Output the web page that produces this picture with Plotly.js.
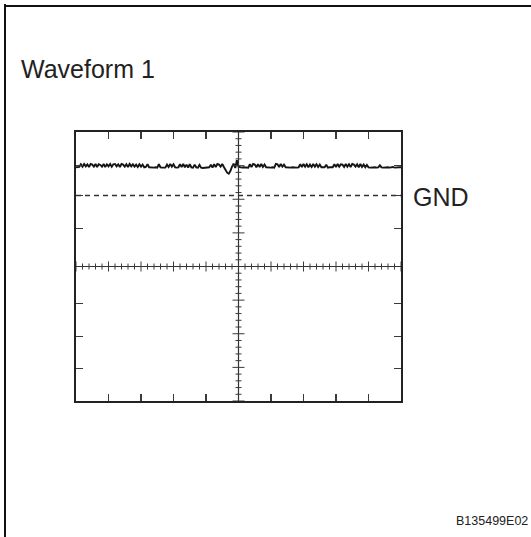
<!DOCTYPE html>
<html>
<head>
<meta charset="utf-8">
<script src="https://cdn.plot.ly/plotly-3.0.1.min.js"></script>
<style>html,body{margin:0;padding:0;background:#fff;}#chart{width:531px;height:537px;}</style>
</head>
<body>
<div id="chart"></div>
<script>
// Waveform samples (vertical divisions), one every 0.05 horizontal division, from -5 to +5
var waveform = [
  2.95,2.95,2.96,3.04,2.97,3.05,2.98,3.04,2.96,3.05,
  3.03,2.97,3.05,2.96,3.04,3.02,2.97,3.05,2.96,3.04,
  2.98,3.05,2.97,3.04,3.05,2.98,3.04,2.96,3.05,3.03,
  2.97,3.04,2.96,3.05,2.98,3.04,2.97,3.03,2.96,3.04,
  2.97,3.03,2.95,2.96,3.04,2.95,2.94,2.95,2.94,2.95,
  2.94,3.04,2.95,2.94,2.95,2.94,3.03,2.96,3.05,2.97,
  3.04,2.95,2.94,2.95,3.04,2.96,3.05,2.95,3.03,2.94,
  3.04,2.95,2.94,3.03,2.95,2.94,3.02,2.94,2.93,2.94,
  2.93,2.94,2.95,3.03,2.94,3.04,2.96,3.05,3.03,2.97,
  3.05,2.96,2.86,2.79,2.76,2.84,2.97,3.06,2.93,3.16,
  2.97,2.95,2.94,2.95,2.94,2.95,2.94,3.04,2.96,3.05,
  3.03,2.95,3.04,2.96,3.05,2.96,3.03,2.95,2.94,2.95,
  2.94,2.95,2.94,3.05,3.04,2.96,3.05,2.97,3.03,2.95,
  2.94,2.95,2.94,2.95,2.94,2.95,2.94,2.95,3.04,2.96,
  3.05,2.97,3.04,2.95,3.03,2.96,3.05,2.97,3.04,2.96,
  3.03,2.95,2.94,2.95,3.03,2.94,2.95,2.94,2.95,3.04,
  2.96,3.05,2.97,3.04,3.03,2.96,3.05,2.97,3.04,2.96,
  3.05,3.03,2.97,3.04,2.95,3.05,2.96,3.03,2.95,3.02,
  2.95,2.94,2.95,2.94,2.95,2.94,2.95,3.01,2.95,2.94,
  2.95,2.94,2.95,2.94,2.95,2.96,2.94,2.95,2.94,2.95,2.95
];
var gndLevel = 2.11;
var xTickVals = [-4,-3,-2,-1,1,2,3,4];
var yTickVals = [-3.04,-2.07,-1.11,1.12,2.1,3.0];
var titleText = "Waveform 1";
var gndText = "GND";
var codeText = "B135499E02";

var W = 531, H = 537, ML = 76, MR = 130, MT = 132, MB = 136;
var PW = W - ML - MR, PH = H - MT - MB;
function px(x){ return (x - ML) / PW; }
function py(y){ return (H - MB - y) / PH; }

var tickColor = '#3a3a3a';
var shapes = [];
// centre cross
shapes.push({type:'line', xref:'x', yref:'y', x0:0, x1:0, y0:-4, y1:4, line:{color:'#333', width:1.2}});
shapes.push({type:'line', xref:'x', yref:'y', x0:-5, x1:5, y0:0, y1:0, line:{color:'#333', width:1.2}});
// GND dashed line
shapes.push({type:'line', xref:'x', yref:'y', x0:-5, x1:5, y0:gndLevel, y1:gndLevel, line:{color:'#333', width:1.5, dash:'5px,4px'}});
// minor / major ticks on centre lines
for (var k = -25; k <= 25; k++) {
  if (k === 0) continue;
  var major = (k % 5 === 0);
  var h = major ? 5 : 3;
  shapes.push({type:'line', xref:'x', yref:'y', ysizemode:'pixel', yanchor:0,
    x0:k*0.2, x1:k*0.2, y0:-h, y1:h, line:{color:tickColor, width:1}});
}
for (var j = -20; j <= 20; j++) {
  if (j === 0) continue;
  var majorY = (j % 5 === 0);
  var w = majorY ? 6 : 3;
  shapes.push({type:'line', xref:'x', yref:'y', xsizemode:'pixel', xanchor:0,
    x0:-w, x1:w, y0:j*0.2, y1:j*0.2, line:{color:tickColor, width:1}});
}
// outer picture frame (left and top)
shapes.push({type:'line', xref:'paper', yref:'paper', x0:px(5), x1:px(5), y0:py(4), y1:py(540), line:{color:'#111', width:2}});
shapes.push({type:'line', xref:'paper', yref:'paper', x0:px(4), x1:px(534), y0:py(6), y1:py(6), line:{color:'#111', width:2}});

var trace = {
  type:'scatter', mode:'lines', x0:-5, dx:0.05, y:waveform,
  line:{color:'#151515', width:1.9}, hoverinfo:'skip', showlegend:false
};

var font = 'Arial, "Liberation Sans", sans-serif';
var layout = {
  width:W, height:H,
  margin:{l:ML, r:MR, t:MT, b:MB, pad:0},
  paper_bgcolor:'#fff', plot_bgcolor:'#fff',
  showlegend:false,
  xaxis:{range:[-5,5], showgrid:false, zeroline:false, showline:true, linecolor:'#222', linewidth:1.8,
    mirror:'allticks', ticks:'inside', ticklen:7, tickwidth:1.2, tickcolor:tickColor,
    tickmode:'array', tickvals:xTickVals, showticklabels:false, fixedrange:true},
  yaxis:{range:[-4,4], showgrid:false, zeroline:false, showline:true, linecolor:'#222', linewidth:1.8,
    mirror:'allticks', ticks:'inside', ticklen:7, tickwidth:1.2, tickcolor:tickColor,
    tickmode:'array', tickvals:yTickVals, showticklabels:false, fixedrange:true},
  shapes:shapes,
  annotations:[
    {text:titleText, xref:'paper', yref:'paper', x:px(19), y:py(69), xanchor:'left', yanchor:'middle',
      showarrow:false, font:{family:font, size:25, color:'#222'}},
    {text:gndText, xref:'paper', yref:'paper', x:px(411), y:py(196.5), xanchor:'left', yanchor:'middle',
      showarrow:false, font:{family:font, size:25, color:'#222'}},
    {text:codeText, xref:'paper', yref:'paper', x:px(530), y:py(521), xanchor:'right', yanchor:'middle',
      showarrow:false, font:{family:font, size:12.5, color:'#222'}}
  ]
};
Plotly.newPlot('chart', [trace], layout, {staticPlot:true, displayModeBar:false});
</script>
</body>
</html>
